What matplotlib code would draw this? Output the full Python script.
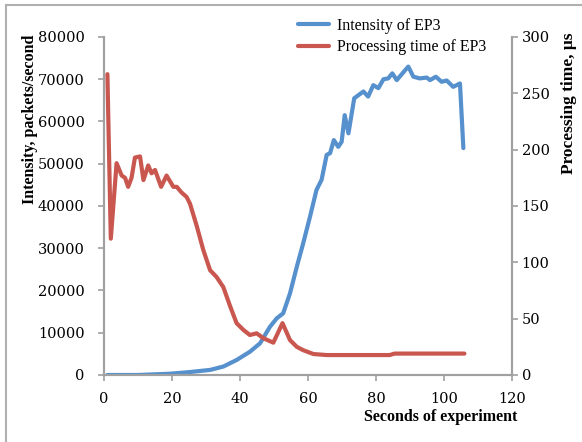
import matplotlib
matplotlib.use("Agg")
import matplotlib.pyplot as plt
from matplotlib.lines import Line2D

# intensity of EP3, packets/second
t_int = [1, 10, 19.4, 25.3, 31.2, 35.1, 39, 42.9, 45.9, 48.8, 50.8, 52.7, 54.7,
         56.7, 58.6, 60.6, 62.5, 64, 65.5, 66.5, 67.6, 68.9, 69.9, 70.8, 71.9,
         73.6, 76.3, 77.7, 79.2, 80.7, 82.2, 83.6, 84.8, 86.1, 89.5, 91, 92.9,
         94.9, 95.9, 97.6, 99.3, 100.8, 102.7, 104.7, 105.7]
intensity = [0, 0, 300, 700, 1200, 2000, 3550, 5500, 7500, 11400, 13400, 14600,
             19300, 25600, 31200, 37500, 43800, 46200, 52100, 52500, 55600,
             54000, 55200, 61500, 57200, 65500, 67100, 65900, 68600, 67900,
             70000, 70200, 71400, 69800, 73000, 70600, 70200, 70400, 69800,
             70600, 69400, 69700, 68200, 69000, 53700]

# processing time of EP3, microseconds
t_proc = [1, 2, 3.7, 5.2, 6.2, 7.1, 8.1, 9.1, 10.6, 11.6, 13, 14, 15, 16.8, 18.4,
          19.4, 20.4, 21.4, 22.8, 24.3, 25.3, 27.3, 29.2, 31.2, 33.1, 35.1, 37.1,
          39, 41, 42.9, 44.9, 46.9, 49.8, 52.5, 54.7, 56.7, 58.6, 61.6, 65.5,
          84, 85.5, 106]
proc_time = [267, 121, 188, 177, 175, 167, 175, 193, 194, 173, 186, 179, 182,
             167, 177, 172, 167, 167, 162, 158, 152, 132, 111, 93, 87, 78, 61,
             46, 40, 35.5, 37, 32.6, 28.7, 46, 31, 25, 22, 18.6, 17.7, 17.7, 19,
             19]

BLUE = "#5690CD"
RED = "#C9574F"
GRAY = "#a0a0a0"
tick_font = {"family": "DejaVu Serif", "size": 10.5}
plt.rcParams["font.family"] = "Liberation Serif"

fig = plt.figure(figsize=(5.82, 4.42), dpi=100)
ax = fig.add_axes([0.1787, 0.1516, 0.701, 0.7647])
ax2 = ax.twinx()

l1, = ax.plot(t_int, intensity, color=BLUE, lw=3, solid_capstyle="round",
              solid_joinstyle="round")
l2, = ax2.plot(t_proc, proc_time, color=RED, lw=3, solid_capstyle="round",
               solid_joinstyle="round")

ax.set_xlim(0, 120)
ax.set_ylim(0, 80000)
ax2.set_ylim(0, 300)
ax.set_xticks(range(0, 121, 20))
ax.set_yticks(range(0, 80001, 10000))
ax2.set_yticks(range(0, 301, 50))

for a in (ax, ax2):
    a.spines["top"].set_visible(False)
    for s in ("left", "right", "bottom"):
        a.spines[s].set_color(GRAY)
        a.spines[s].set_linewidth(1.5)
    a.tick_params(colors=GRAY, length=4, width=1.2, labelcolor="black")
    for lab in a.get_xticklabels() + a.get_yticklabels():
        lab.set_fontfamily(tick_font["family"])
        lab.set_fontsize(tick_font["size"])
ax.tick_params(axis="y", pad=10)
ax.tick_params(axis="x", pad=8)
ax2.tick_params(axis="y", pad=3)

fig.text(0.052, 0.73, "Intensity, packets/second", rotation=90, fontsize=11.5,
         fontweight="bold", ha="center", va="center")
fig.text(0.978, 0.766, "Processing time, μs", rotation=90, fontsize=12.5,
         fontweight="bold", ha="center", va="center")
fig.text(0.889, 0.057, "Seconds of experiment", fontsize=11.5,
         fontweight="bold", ha="right", va="center")

ax.legend([l1, l2], ["Intensity of EP3", "Processing time of EP3"],
          loc="upper left", bbox_to_anchor=(0.492, 0.985),
          bbox_transform=fig.transFigure, frameon=False, fontsize=11.5,
          handlelength=2.0, handletextpad=0.45, labelspacing=0.35,
          borderpad=0.2)

# chart area border (top and left edges visible)
fig.add_artist(Line2D([0.011, 0.011], [0, 0.989], color="#b0b0b0", lw=1.5,
                      transform=fig.transFigure))
fig.add_artist(Line2D([0.011, 1.0], [0.989, 0.989], color="#b0b0b0", lw=1.5,
                      transform=fig.transFigure))

fig.savefig("out.png", dpi=100)
